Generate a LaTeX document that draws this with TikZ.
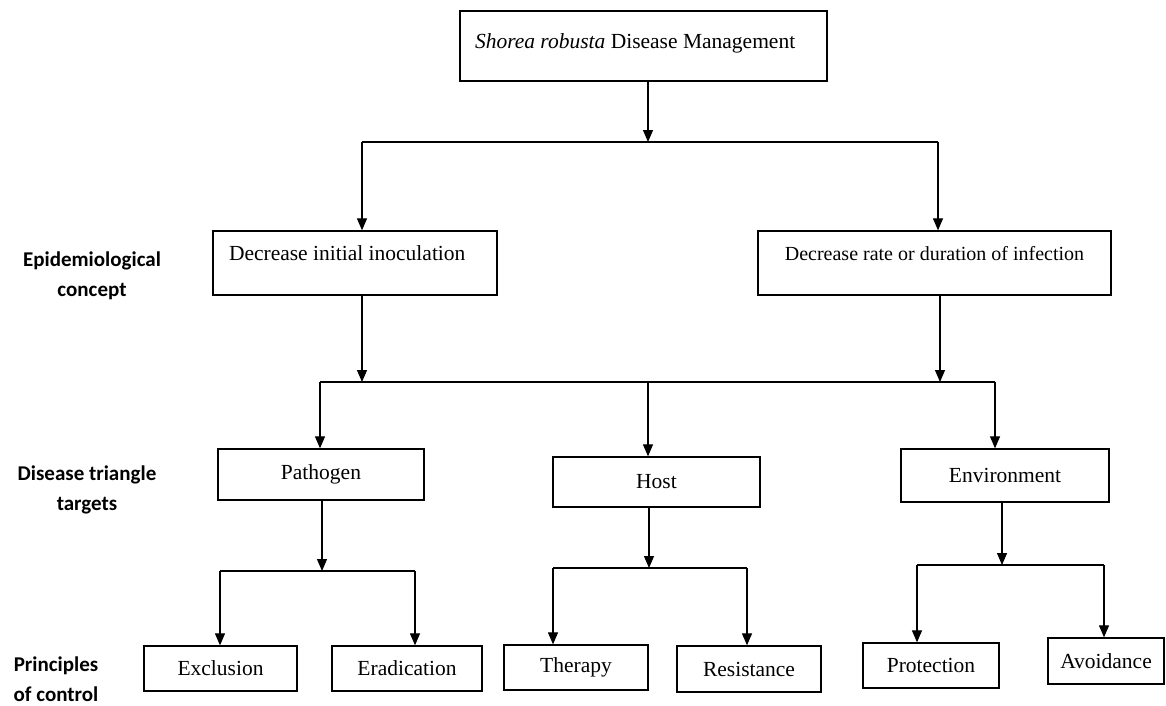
\documentclass[tikz,border=0pt]{standalone}
\usepackage{fontspec}
\setmainfont{Liberation Serif}
\newfontfamily\lblfont{Carlito}
\usetikzlibrary{arrows.meta}
\begin{document}
\begin{tikzpicture}[x=1pt,y=-1pt, line width=1.2pt,
  box/.style={draw, line width=1.3pt, inner sep=0pt, font=\fontsize{21.5}{25}\selectfont},
  arr/.style={-{Triangle[width=10pt,length=12pt]}},
  lbl/.style={font=\lblfont\bfseries\fontsize{21}{30.5}\selectfont, align=center, inner sep=0pt}]
\useasboundingbox (0,0) rectangle (1166,706);

% boxes
\node[box, minimum width=367pt, minimum height=70pt, inner xsep=15pt, text height=16pt, text depth=10pt] (top) at (643.5,46) {\makebox[337pt][l]{\textit{Shorea robusta} Disease Management}};
\node[box, minimum width=284pt, minimum height=64pt, inner xsep=16pt, text height=15pt, text depth=21pt] (dec1) at (355,263) {\makebox[252pt][l]{Decrease initial inoculation}};
\node[box, minimum width=353pt, minimum height=64pt, text height=15pt, text depth=20pt, font=\fontsize{20}{24}\selectfont] (dec2) at (934.5,263) {Decrease rate or duration of infection};

\node[box, minimum width=206pt, minimum height=51pt] (path) at (321,474.5) {Pathogen};
\node[box, minimum width=207pt, minimum height=50pt] (host) at (656.5,482) {Host};
\node[box, minimum width=208pt, minimum height=53pt] (env) at (1005,475.5) {Environment};

\node[box, minimum width=153pt, minimum height=45pt] (excl) at (220.5,668.5) {Exclusion};
\node[box, minimum width=150pt, minimum height=45pt] (erad) at (407,668.5) {Eradication};
\node[box, minimum width=144pt, minimum height=45pt] (ther) at (576,667.5) {Therapy};
\node[box, minimum width=144pt, minimum height=46pt] (resi) at (749,669) {Resistance};
\node[box, minimum width=136pt, minimum height=45pt] (prot) at (931,665.5) {Protection};
\node[box, minimum width=116pt, minimum height=46pt] (avoi) at (1106,661) {Avoidance};

% row labels
\node[lbl] (l1) at (92,276) {Epidemiological\\concept};
\node[lbl] (l2) at (87,490) {Disease triangle\\targets};
\node[lbl] (l3) at (56,679) {Principles\\of control};

% level 1
\coordinate (t1) at (648,142);
\coordinate (t1l) at (362,142);
\coordinate (t1r) at (938,142);
\draw[arr] (top.south -| t1) -- (t1);
\draw (t1l) -- (t1r);
\draw[arr] (t1l) -- (t1l |- dec1.north);
\draw[arr] (t1r) -- (t1r |- dec2.north);

% level 2
\coordinate (ma) at (362,382);
\coordinate (mb) at (940,382);
\coordinate (mh) at (648,382);
\coordinate (m1l) at (320,382);
\coordinate (m1r) at (995,382);
\draw[arr] (dec1.south -| ma) -- (ma);
\draw[arr] (dec2.south -| mb) -- (mb);
\draw (m1l) -- (m1r);
\draw[arr] (m1l) -- (m1l |- path.north);
\draw[arr] (mh) -- (mh |- host.north);
\draw[arr] (m1r) -- (m1r |- env.north);

% pathogen
\coordinate (pj) at (322,571);
\coordinate (pl) at (220,571);
\coordinate (pr) at (415,571);
\draw[arr] (path.south -| pj) -- (pj);
\draw (pl) -- (pr);
\draw[arr] (pl) -- (pl |- excl.north);
\draw[arr] (pr) -- (pr |- erad.north);

% host
\coordinate (hj) at (649,568);
\coordinate (hl) at (553,568);
\coordinate (hr) at (747,568);
\draw[arr] (host.south -| hj) -- (hj);
\draw (hl) -- (hr);
\draw[arr] (hl) -- (hl |- ther.north);
\draw[arr] (hr) -- (hr |- resi.north);

% environment
\coordinate (ej) at (1002,565);
\coordinate (el) at (917,565);
\coordinate (er) at (1104,565);
\draw[arr] (env.south -| ej) -- (ej);
\draw (el) -- (er);
\draw[arr] (el) -- (el |- prot.north);
\draw[arr] (er) -- (er |- avoi.north);
\end{tikzpicture}
\end{document}
